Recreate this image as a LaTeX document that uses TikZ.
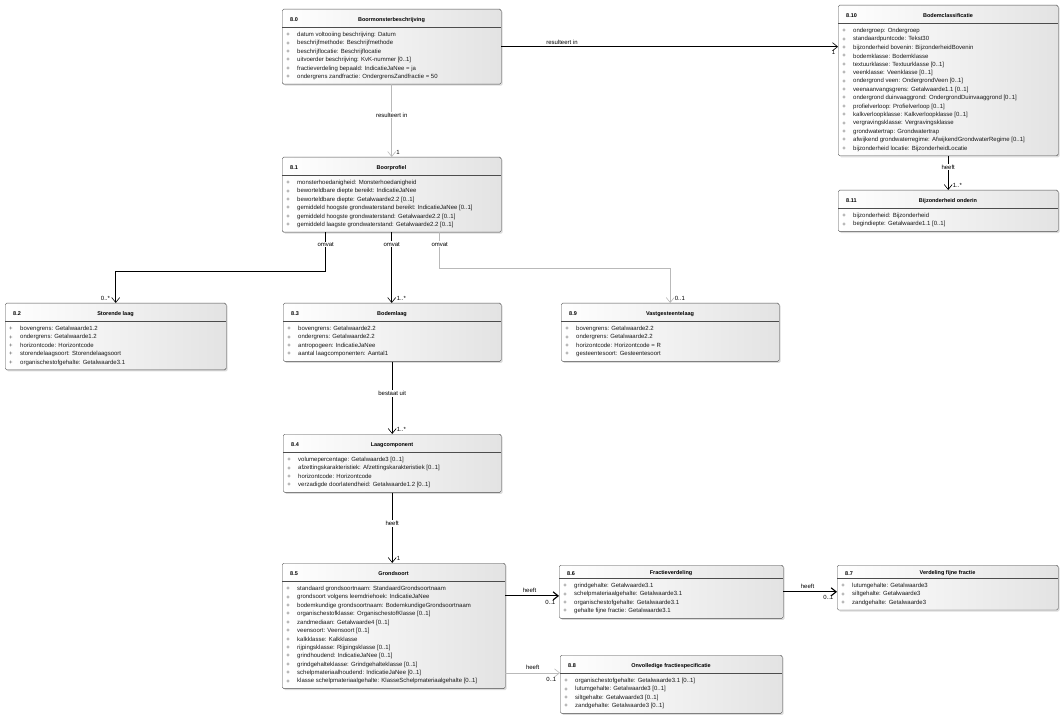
\documentclass[tikz,border=0pt]{standalone}
\usepackage{fontspec}
\setmainfont{Liberation Sans}
\usetikzlibrary{arrows.meta,shadows}

\tikzset{
  klasse/.style={anchor=north west, inner sep=0pt, draw=gray!60!black, rounded corners=1.5pt,
    left color=white, right color=gray!22,
    drop shadow={shadow xshift=1.5pt, shadow yshift=-1.5pt, fill=gray!55}},
  scheiding/.style={draw=gray!60!black, line width=0.5pt},
  kopnummer/.style={anchor=west, inner sep=0pt, font=\fontsize{5.5}{6}\selectfont\bfseries},
  koptitel/.style={inner sep=0pt, font=\fontsize{5.5}{6}\selectfont\bfseries},
  plus/.style={inner sep=0pt, font=\fontsize{6}{7}\selectfont, text=gray!60!black},
  attribuut/.style={anchor=west, inner sep=0pt, font=\fontsize{6}{7}\selectfont, text=gray!20!black},
  assoc/.style={draw=black, line width=0.6pt, -{Straight Barb[length=5pt,width=8pt]}},
  grijs/.style={draw=gray!55},
  dik/.style={line width=1.1pt},
  rol/.style={fill=white, inner sep=1pt, font=\fontsize{6}{7}\selectfont},
  mult/.style={inner sep=0.5pt, font=\fontsize{6}{7}\selectfont},
}

% #1 kophoogte, #2 naam, #3 nummer, #4 titel, #5 linksboven, #6 breedte, #7 attributen
\newcommand{\klasse}[7][18]{%
  \foreach \attr [count=\n] in {#7} {\xdef\aantal{\n}}%
  \pgfmathsetmacro{\hoogte}{#1+15+8.4*(\aantal-1)}%
  \begin{scope}[shift={#5}]
    \node[klasse, minimum width=#6pt, minimum height=\hoogte pt] (#2) at (0,0) {};
    \draw[scheiding] (0,#1) -- (#6,#1);
    \node[kopnummer] at (8,#1/2+2) {#3};
    \node[koptitel] at (#6/2,#1/2+2) {#4};
    \foreach \attr [count=\i] in {#7} {
      \node[plus] at (6,#1+8+8.4*\i-8.4) {+};
      \node[attribuut] at (15,#1+8+8.4*\i-8.4) {\attr};
    }
  \end{scope}}

\begin{document}
\begin{tikzpicture}[x=1pt, y=-1pt]
\useasboundingbox (0,0) rectangle (1063,719);

\klasse{boormonster}{8.0}{Boormonsterbeschrijving}{(282,9)}{219}{
  {datum voltooiing beschrijving: Datum},
  {beschrijfmethode: Beschrijfmethode},
  {beschrijflocatie: Beschrijflocatie},
  {uitvoerder beschrijving: KvK-nummer [0..1]},
  {fractieverdeling bepaald: IndicatieJaNee = ja},
  {ondergrens zandfractie: OndergrensZandfractie = 50}}

\klasse{bodemclass}{8.10}{Bodemclassificatie}{(838,5)}{220}{
  {ondergroep: Ondergroep},
  {standaardpuntcode: Tekst30},
  {bijzonderheid bovenin: BijzonderheidBovenin},
  {bodemklasse: Bodemklasse},
  {textuurklasse: Textuurklasse [0..1]},
  {veenklasse: Veenklasse [0..1]},
  {ondergrond veen: OndergrondVeen [0..1]},
  {veenaanvangsgrens: Getalwaarde1.1 [0..1]},
  {ondergrond duinvaaggrond: OndergrondDuinvaaggrond [0..1]},
  {profielverloop: Profielverloop [0..1]},
  {kalkverloopklasse: Kalkverloopklasse [0..1]},
  {vergravingsklasse: Vergravingsklasse},
  {grondwatertrap: Grondwatertrap},
  {afwijkend grondwaterregime: AfwijkendGrondwaterRegime [0..1]},
  {bijzonderheid locatie: BijzonderheidLocatie}}

\klasse{bijzonderheid}{8.11}{Bijzonderheid onderin}{(838,190)}{220}{
  {bijzonderheid: Bijzonderheid},
  {begindiepte: Getalwaarde1.1 [0..1]}}

\klasse{boorprofiel}{8.1}{Boorprofiel}{(282,157)}{219}{
  {monsterhoedanigheid: Monsterhoedanigheid},
  {beworteldbare diepte bereikt: IndicatieJaNee},
  {beworteldbare diepte: Getalwaarde2.2 [0..1]},
  {gemiddeld hoogste grondwaterstand bereikt: IndicatieJaNee [0..1]},
  {gemiddeld hoogste grondwaterstand: Getalwaarde2.2 [0..1]},
  {gemiddeld laagste grondwaterstand: Getalwaarde2.2 [0..1]}}

\klasse{storendelaag}{8.2}{Storende laag}{(5,303)}{221}{
  {bovengrens: Getalwaarde1.2},
  {ondergrens: Getalwaarde1.2},
  {horizontcode: Horizontcode},
  {storendelaagsoort: Storendelaagsoort},
  {organischestofgehalte: Getalwaarde3.1}}

\klasse{bodemlaag}{8.3}{Bodemlaag}{(283,303)}{218}{
  {bovengrens: Getalwaarde2.2},
  {ondergrens: Getalwaarde2.2},
  {antropogeen: IndicatieJaNee},
  {aantal laagcomponenten: Aantal1}}

\klasse{vastgesteente}{8.9}{Vastgesteentelaag}{(561,303)}{218}{
  {bovengrens: Getalwaarde2.2},
  {ondergrens: Getalwaarde2.2},
  {horizontcode: Horizontcode = R},
  {gesteentesoort: Gesteentesoort}}

\klasse{laagcomp}{8.4}{Laagcomponent}{(283,434)}{218}{
  {volumepercentage: Getalwaarde3 [0..1]},
  {afzettingskarakteristiek: Afzettingskarakteristiek [0..1]},
  {horizontcode: Horizontcode},
  {verzadigde doorlatendheid: Getalwaarde1.2 [0..1]}}

\klasse{grondsoort}{8.5}{Grondsoort}{(282,563)}{223}{
  {standaard grondsoortnaam: StandaardGrondsoortnaam},
  {grondsoort volgens leemdriehoek: IndicatieJaNee},
  {bodemkundige grondsoortnaam: BodemkundigeGrondsoortnaam},
  {organischestofklasse: OrganischestofKlasse [0..1]},
  {zandmediaan: Getalwaarde4 [0..1]},
  {veensoort: Veensoort [0..1]},
  {kalkklasse: Kalkklasse},
  {rijpingsklasse: Rijpingsklasse [0..1]},
  {grindhoudend: IndicatieJaNee [0..1]},
  {grindgehalteklasse: Grindgehalteklasse [0..1]},
  {schelpmateriaalhoudend: IndicatieJaNee [0..1]},
  {klasse schelpmateriaalgehalte: KlasseSchelpmateriaalgehalte [0..1]}}

\klasse[13]{fractieverd}{8.6}{Fractieverdeling}{(559,565)}{224}{
  {grindgehalte: Getalwaarde3.1},
  {schelpmateriaalgehalte: Getalwaarde3.1},
  {organischestofgehalte: Getalwaarde3.1},
  {gehalte fijne fractie: Getalwaarde3.1}}

\klasse[13]{fijnefractie}{8.7}{Verdeling fijne fractie}{(837,565)}{221}{
  {lutumgehalte: Getalwaarde3},
  {siltgehalte: Getalwaarde3},
  {zandgehalte: Getalwaarde3}}

\klasse{onvolledig}{8.8}{Onvolledige fractiespecificatie}{(560,655)}{222}{
  {organischestofgehalte: Getalwaarde3.1 [0..1]},
  {lutumgehalte: Getalwaarde3 [0..1]},
  {siltgehalte: Getalwaarde3 [0..1]},
  {zandgehalte: Getalwaarde3 [0..1]}}

% associaties
\draw[assoc] (boormonster.east) -- node[pos=0.18, rol, above=1pt] {resulteert in} (boormonster.east -| bodemclass.west) coordinate (p1);
\node[mult, anchor=north east] at ([xshift=-2pt,yshift=-3pt]p1) {1};

\draw[assoc, grijs] (boormonster.south) -- node[pos=0.42, rol] {resulteert in} (boormonster.south |- boorprofiel.north);
\node[mult, anchor=south west] at ([xshift=4pt,yshift=2pt]boorprofiel.north) {1};

\draw[assoc] (bodemclass.south) -- node[pos=0.33, rol] {heeft} (bijzonderheid.north);
\node[mult, anchor=south west] at ([xshift=4pt,yshift=2pt]bijzonderheid.north) {1..*};

\draw[assoc] ([xshift=-66pt]boorprofiel.south) -- node[pos=0.31, rol] {omvat} ++(0,39) -| (storendelaag.north);
\node[mult, anchor=south east] at ([xshift=-5pt,yshift=2pt]storendelaag.north) {0..*};

\draw[assoc] (boorprofiel.south) -- node[pos=0.17, rol] {omvat} (boorprofiel.south |- bodemlaag.north);
\node[mult, anchor=south west] at ([xshift=4pt,yshift=2pt]bodemlaag.north) {1..*};

\draw[assoc, grijs] ([xshift=48pt]boorprofiel.south) -- node[pos=0.33, rol] {omvat} ++(0,36) -| (vastgesteente.north);
\node[mult, anchor=south west] at ([xshift=4pt,yshift=2pt]vastgesteente.north) {0..1};

\draw[assoc] (bodemlaag.south) -- node[pos=0.44, rol] {bestaat uit} (bodemlaag.south |- laagcomp.north);
\node[mult, anchor=south west] at ([xshift=4pt,yshift=2pt]laagcomp.north) {1..*};

\draw[assoc] (laagcomp.south) -- node[pos=0.44, rol] {heeft} (laagcomp.south |- grondsoort.north);
\node[mult, anchor=south west] at ([xshift=4pt,yshift=2pt]laagcomp.south |- grondsoort.north) {1};

\coordinate (h1) at ([yshift=30pt]grondsoort.east);
\draw[assoc, dik] (h1) -- node[pos=0.45, rol, above=2pt] {heeft} (h1 -| fractieverd.west) coordinate (p2);
\node[mult, anchor=north east] at ([xshift=-3pt,yshift=-4pt]p2) {0..1};

\draw[assoc, dik] (fractieverd.east) -- node[pos=0.45, rol, above=2pt] {heeft} (fractieverd.east -| fijnefractie.west) coordinate (p3);
\node[mult, anchor=north east] at ([xshift=-3pt,yshift=-3pt]p3) {0..1};

\coordinate (h3) at ([yshift=-47pt]grondsoort.east);
\draw[assoc, grijs] (h3) -- node[pos=0.5, rol, above=2pt] {heeft} (h3 -| onvolledig.west) coordinate (p4);
\node[mult, anchor=north east] at ([xshift=-3pt,yshift=-4pt]p4) {0..1};
\end{tikzpicture}
\end{document}
